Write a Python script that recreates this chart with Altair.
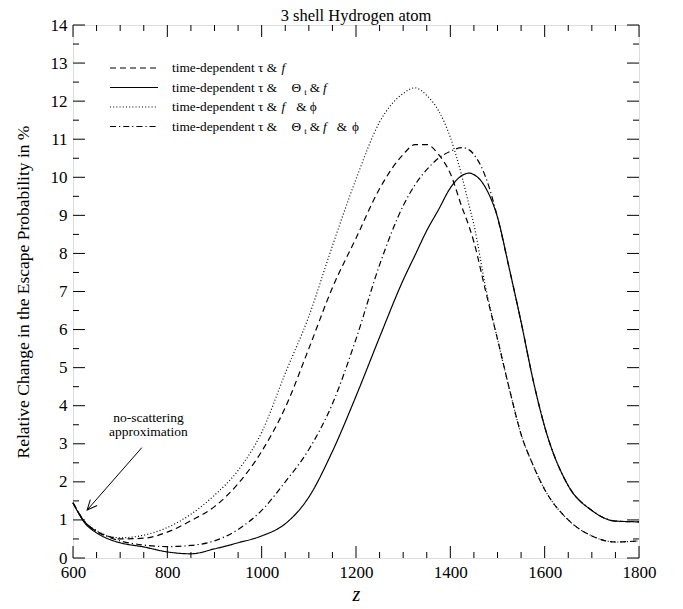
import math
import altair as alt
import pandas as pd

# ---------------- data ----------------
Z = [600, 625, 650, 675, 700, 750, 800, 850, 900, 950, 1000, 1050, 1100, 1150,
     1200, 1250, 1300, 1325, 1350, 1375, 1400, 1425, 1440, 1450, 1475, 1500,
     1525, 1550, 1575, 1600, 1650, 1700, 1750, 1800]

TAU_F = [1.45, 0.95, 0.70, 0.57, 0.50, 0.52, 0.68, 0.98, 1.35, 1.95, 2.80, 3.95,
         5.50, 7.10, 8.40, 9.70, 10.60, 10.86, 10.86, 10.60, 10.10, 9.20, 8.70,
         8.30, 7.00, 5.75, 4.45, 3.25, 2.45, 1.80, 1.00, 0.58, 0.42, 0.45]

TAU_THETA_F = [1.45, 0.92, 0.66, 0.50, 0.40, 0.29, 0.16, 0.11, 0.24, 0.40, 0.58,
               0.90, 1.60, 2.80, 4.25, 5.80, 7.30, 7.95, 8.60, 9.15, 9.72, 10.05,
               10.11, 10.07, 9.72, 8.95, 7.60, 6.20, 4.70, 3.45, 1.90, 1.25, 0.97, 0.95]

TAU_F_PHI = [1.45, 0.95, 0.72, 0.58, 0.53, 0.60, 0.80, 1.15, 1.65, 2.30, 3.30, 4.85,
             6.35, 8.20, 9.95, 11.45, 12.20, 12.35, 12.15, 11.75, 11.05, 10.00, 9.25,
             8.75, 7.10, 5.75, 4.45, 3.25, 2.45, 1.80, 1.00, 0.58, 0.42, 0.45]

TAU_THETA_F_PHI = [1.45, 0.95, 0.70, 0.55, 0.45, 0.34, 0.30, 0.33, 0.45, 0.75, 1.25,
                   2.00, 2.85, 4.05, 5.75, 7.70, 9.25, 9.80, 10.20, 10.50, 10.68,
                   10.78, 10.72, 10.60, 10.00, 8.95, 7.60, 6.20, 4.70, 3.45, 1.90,
                   1.25, 0.97, 0.95]

SERIES = ["tau_f", "tau_theta_f", "tau_f_phi", "tau_theta_f_phi"]
SERIES_VALUES = [TAU_F, TAU_THETA_F, TAU_F_PHI, TAU_THETA_F_PHI]
DASHES = [[6, 4], [1, 0], [1, 2.2], [6, 3, 1.2, 3]]

X_LABELS = [600, 800, 1000, 1200, 1400, 1600, 1800]
X_MINOR = [650, 700, 750, 850, 900, 950, 1050, 1100, 1150, 1250, 1300, 1350,
           1450, 1500, 1550, 1650, 1700, 1750]
Y_LABELS = list(range(0, 15))
Y_MINOR = [0.5 + i for i in range(14)]

TITLE = "3 shell Hydrogen atom"
Y_TITLE = "Relative Change in the Escape Probability in %"
X_TITLE = "z"

ANNOT_LINES = ["no-scattering", "approximation"]
ANNOT_Z = 760
ANNOT_V = [3.68, 3.31]
ARROW_TAIL = (746, 2.90)
ARROW_HEAD = (630, 1.26)

# legend rows: pieces (text, style, gap before)
LEGEND_ROWS = [
    [("time-dependent τ &", "n", 0), ("f", "i", 4)],
    [("time-dependent τ &", "n", 0), ("Θ", "n", 14), ("t", "s", 3), ("&", "n", 3), ("f", "i", 3)],
    [("time-dependent τ &", "n", 0), ("f", "i", 4), ("&", "n", 11), ("ϕ", "n", 3)],
    [("time-dependent τ &", "n", 0), ("Θ", "n", 14), ("t", "s", 3), ("&", "n", 3), ("f", "i", 3),
     ("&", "n", 10), ("ϕ", "n", 5)],
]

# ---------------- layout ----------------
W, H = 566, 533
FONT = "Liberation Serif, Times New Roman, Times, DejaVu Serif, serif"
LEG_FS = 13.3
SUB_FS = 9

xs = alt.Scale(domain=[600, 1800], nice=False, zero=False)
ys = alt.Scale(domain=[0, 14], nice=False, zero=False)

AX = alt.Axis(values=X_LABELS, format="d", ticks=False, domain=False, grid=False,
              labelFont=FONT, labelFontSize=17, labelColor="black",
              labelPadding=6, labelFlush=False, labelOverlap=False,
              title=X_TITLE, titleFont=FONT, titleFontSize=20,
              titleFontStyle="italic", titleFontWeight="normal",
              titleColor="black", titleY=36, titleBaseline="middle")
AY = alt.Axis(values=Y_LABELS, format="d", ticks=False, domain=False, grid=False,
              labelFont=FONT, labelFontSize=17, labelColor="black",
              labelPadding=6, labelFlush=False, labelOverlap=False,
              title=Y_TITLE, titleFont=FONT, titleFontSize=17.5,
              titleFontWeight="normal", titleColor="black",
              titleAngle=270, titleX=-50, titleY=H / 2,
              titleAlign="center", titleBaseline="middle")

rows = []
for name, vals in zip(SERIES, SERIES_VALUES):
    for z, v in zip(Z, vals):
        rows.append({"z": z, "value": v, "series": name})
df = pd.DataFrame(rows)

lines = alt.Chart(df).mark_line(color="black", strokeWidth=1.2,
                                interpolate="monotone").encode(
    x=alt.X("z:Q", scale=xs, axis=AX),
    y=alt.Y("value:Q", scale=ys, axis=AY),
    strokeDash=alt.StrokeDash("series:N",
                              scale=alt.Scale(domain=SERIES, range=DASHES),
                              legend=None),
    detail="series:N",
)

layers = [lines]

# inward ticks on all four sides
def xticks(vals, length):
    d = pd.DataFrame({"z": vals})
    bottom = alt.Chart(d).mark_rule(color="black", strokeWidth=1).encode(
        x=alt.X("z:Q", scale=xs, axis=AX), y=alt.value(H), y2=alt.value(H - length))
    top = alt.Chart(d).mark_rule(color="black", strokeWidth=1).encode(
        x=alt.X("z:Q", scale=xs, axis=AX), y=alt.value(0), y2=alt.value(length))
    return [bottom, top]

def yticks(vals, length):
    d = pd.DataFrame({"value": vals})
    left = alt.Chart(d).mark_rule(color="black", strokeWidth=1).encode(
        y=alt.Y("value:Q", scale=ys, axis=AY), x=alt.value(0), x2=alt.value(length))
    right = alt.Chart(d).mark_rule(color="black", strokeWidth=1).encode(
        y=alt.Y("value:Q", scale=ys, axis=AY), x=alt.value(W), x2=alt.value(W - length))
    return [left, right]

layers += xticks(X_LABELS, 12) + xticks(X_MINOR, 6)
layers += yticks(Y_LABELS, 12) + yticks(Y_MINOR, 6)

# annotation text + arrow
ann = pd.DataFrame({"z": [ANNOT_Z] * len(ANNOT_LINES), "value": ANNOT_V, "t": ANNOT_LINES})
layers.append(alt.Chart(ann).mark_text(font=FONT, fontSize=13.5, color="black",
                                       align="center", baseline="middle").encode(
    x=alt.X("z:Q", scale=xs, axis=AX), y=alt.Y("value:Q", scale=ys, axis=AY), text="t:N"))

arrow = pd.DataFrame({"z": [ARROW_TAIL[0]], "value": [ARROW_TAIL[1]],
                      "z2": [ARROW_HEAD[0]], "value2": [ARROW_HEAD[1]]})
layers.append(alt.Chart(arrow).mark_rule(color="black", strokeWidth=1).encode(
    x=alt.X("z:Q", scale=xs, axis=AX), y=alt.Y("value:Q", scale=ys, axis=AY),
    x2="z2:Q", y2="value2:Q"))

dx = (ARROW_HEAD[0] - ARROW_TAIL[0]) * W / 1200.0
dy = -(ARROW_HEAD[1] - ARROW_TAIL[1]) * H / 14.0
ang = math.degrees(math.atan2(dy, dx)) % 360
head = pd.DataFrame({"z": [ARROW_HEAD[0]], "value": [ARROW_HEAD[1]]})
layers.append(alt.Chart(head).mark_point(shape="M-1,-0.45L0,0L-1,0.45", filled=False,
                                         color="black", strokeWidth=1, size=400,
                                         angle=ang, opacity=1).encode(
    x=alt.X("z:Q", scale=xs, axis=AX), y=alt.Y("value:Q", scale=ys, axis=AY)))

# chart title drawn as a text mark above the frame
layers.append(alt.Chart(pd.DataFrame({"t": [TITLE]})).mark_text(
    font=FONT, fontSize=16.5, color="black", align="center", baseline="alphabetic").encode(
    x=alt.value(W / 2), y=alt.value(-4), text="t:N"))

# legend (drawn manually, top-left inside the frame)
CHAR_W = {'a': .444, 'b': .5, 'c': .444, 'd': .5, 'e': .444, 'f': .278, 'g': .5, 'h': .5,
          'i': .278, 'l': .278, 'm': .778, 'n': .5, 'o': .5, 'p': .5, 'r': .333, 's': .389,
          't': .278, ' ': .25, '-': .333, '&': .778, 'τ': .44, 'Θ': .722, 'ϕ': .6}

def text_w(s, fs):
    return sum(CHAR_W.get(c, 0.5) for c in s) * fs

LEG_LINE_X0, LEG_LINE_X1, LEG_TEXT_X, LEG_Y0, LEG_DY = 37, 85, 99, 43, 19.5
leg_n, leg_i, leg_s = [], [], []
for r, pieces in enumerate(LEGEND_ROWS):
    y = LEG_Y0 + r * LEG_DY
    x = LEG_TEXT_X
    for text, style, gap in pieces:
        x += gap
        if style == "n":
            leg_n.append({"px": x, "py": y, "t": text})
            x += text_w(text, LEG_FS)
        elif style == "i":
            leg_i.append({"px": x, "py": y, "t": text})
            x += text_w(text, LEG_FS)
        else:
            leg_s.append({"px": x, "py": y + 4, "t": text})
            x += text_w(text, SUB_FS)
    layers.append(alt.Chart(pd.DataFrame({"k": [SERIES[r]]})).mark_rule(
        color="black", strokeWidth=1.2, strokeDash=DASHES[r]).encode(
        x=alt.value(LEG_LINE_X0), x2=alt.value(LEG_LINE_X1), y=alt.value(y)))

for recs, fs, style in [(leg_n, LEG_FS, "normal"), (leg_i, LEG_FS, "italic"), (leg_s, SUB_FS, "normal")]:
    layers.append(alt.Chart(pd.DataFrame(recs)).mark_text(
        font=FONT, fontSize=fs, fontStyle=style, color="black",
        align="left", baseline="middle").encode(
        x=alt.X("px:Q", scale=None), y=alt.Y("py:Q", scale=None), text="t:N"))

chart = alt.layer(*layers).properties(
    width=W, height=H,
    autosize=alt.AutoSizeParams(type="none"),
    padding={"left": 65, "top": 17, "right": 36, "bottom": 51},
).configure_view(stroke="black", strokeWidth=1.5).configure(background="white")

chart.save("out.html", embed_options={"renderer": "svg", "actions": False})
